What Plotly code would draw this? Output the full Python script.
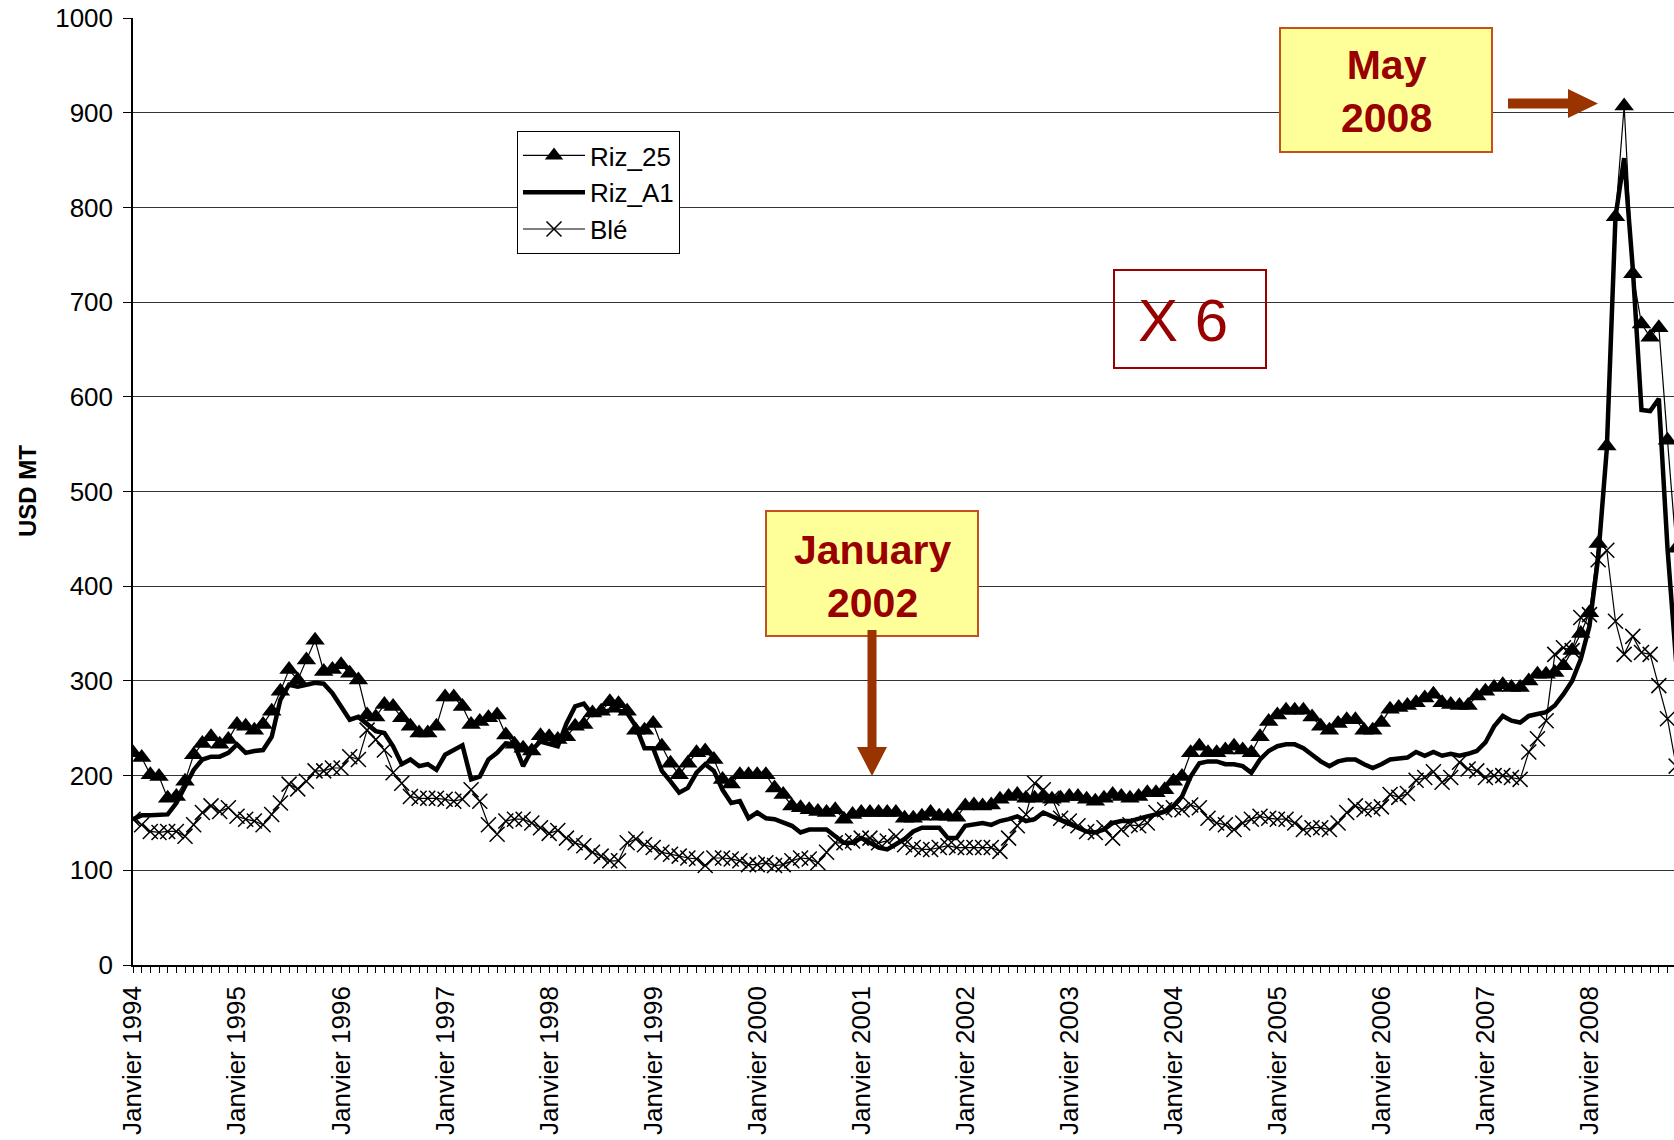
import plotly.graph_objects as go

# ---------------- data (monthly, Jan 1994 -> Nov 2008) ----------------
years = list(range(1994, 2009))

riz_25 = [
    224, 219, 201, 199, 176, 178, 194, 222, 234, 241, 233, 238,   # 1994
    254, 252, 248, 254, 268, 289, 312, 301, 322, 343, 310, 312,   # 1995
    317, 308, 301, 264, 262, 275, 273, 261, 252, 245, 245, 252,   # 1996
    283, 283, 273, 254, 257, 261, 264, 243, 233, 229, 226, 242,   # 1997
    241, 238, 241, 252, 254, 266, 268, 278, 276, 268, 248, 248,   # 1998
    255, 231, 213, 201, 213, 224, 226, 217, 196, 191, 201, 201,   # 1999
    201, 201, 187, 180, 168, 166, 164, 162, 161, 164, 154, 159,   # 2000
    161, 161, 161, 161, 161, 155, 155, 157, 161, 157, 157, 156,   # 2001
    168, 169, 168, 169, 175, 178, 180, 176, 176, 178, 175, 176,   # 2002
    178, 178, 175, 173, 176, 180, 178, 176, 178, 182, 182, 185,   # 2003
    194, 199, 224, 231, 224, 224, 227, 231, 227, 224, 241, 257,   # 2004
    264, 269, 269, 269, 262, 252, 248, 255, 259, 259, 248, 248,   # 2005
    256, 270, 272, 274, 277, 282, 286, 277, 275, 274, 274, 284,   # 2006
    289, 293, 296, 293, 293, 300, 307, 307, 309, 316, 332, 350,   # 2007
    372, 445, 548, 790, 907, 730, 677, 663, 673, 554, 440,        # 2008
]

riz_a1 = [
    154, 158, 158, 158, 159, 171, 189, 206, 217, 220, 220, 224,   # 1994
    233, 224, 226, 227, 241, 280, 296, 294, 296, 298, 297, 287,   # 1995
    273, 259, 262, 255, 247, 245, 231, 212, 217, 210, 212, 206,   # 1996
    222, 227, 232, 196, 199, 217, 224, 234, 233, 210, 227, 236,   # 1997
    233, 231, 255, 273, 276, 264, 266, 269, 269, 266, 252, 229,   # 1998
    229, 205, 194, 182, 187, 203, 212, 205, 185, 171, 173, 155,   # 1999
    161, 155, 154, 150, 147, 140, 143, 143, 143, 136, 129, 129,   # 2000
    134, 129, 124, 122, 127, 133, 141, 145, 145, 145, 134, 134,   # 2001
    147, 148, 150, 148, 152, 154, 157, 152, 154, 161, 157, 154,   # 2002
    150, 145, 141, 140, 143, 150, 152, 152, 155, 157, 159, 162,   # 2003
    168, 178, 199, 213, 215, 215, 212, 212, 210, 203, 217, 226,   # 2004
    231, 233, 233, 229, 222, 215, 210, 215, 217, 217, 212, 208,   # 2005
    212, 217, 218, 219, 225, 221, 225, 221, 223, 221, 223, 226,   # 2006
    235, 252, 263, 258, 256, 263, 265, 267, 274, 286, 300, 323,   # 2007
    358, 430, 545, 790, 852, 735, 586, 585, 598, 440, 320,        # 2008
]

ble = [
    154, 148, 141, 140, 141, 141, 136, 148, 161, 168, 162, 166,   # 1994
    157, 154, 152, 148, 159, 171, 191, 186, 194, 205, 205, 208,   # 1995
    208, 220, 217, 248, 238, 227, 203, 192, 178, 176, 176, 176,   # 1996
    175, 173, 175, 185, 173, 148, 138, 152, 154, 154, 150, 145,   # 1997
    139, 142, 134, 129, 126, 119, 115, 110, 110, 129, 133, 127,   # 1998
    124, 119, 117, 115, 113, 112, 105, 113, 113, 112, 110, 106,   # 1999
    106, 108, 105, 106, 110, 113, 112, 108, 119, 129, 129, 131,   # 2000
    134, 134, 129, 131, 136, 127, 124, 122, 122, 124, 126, 124,   # 2001
    124, 124, 124, 124, 120, 134, 147, 159, 192, 185, 176, 155,   # 2002
    152, 147, 141, 140, 145, 134, 143, 148, 147, 150, 161, 164,   # 2003
    166, 164, 169, 166, 155, 150, 148, 143, 150, 154, 157, 155,   # 2004
    154, 154, 150, 143, 145, 145, 143, 150, 161, 168, 164, 165,   # 2005
    167, 180, 177, 181, 195, 198, 204, 193, 198, 214, 207, 205,   # 2006
    198, 200, 200, 198, 196, 225, 239, 258, 328, 335, 332, 367,   # 2007
    370, 428, 438, 363, 328, 347, 330, 328, 295, 260, 210,        # 2008
]

series_names = ["Riz_25", "Riz_A1", "Blé"]
tick_labels = [f"Janvier {y}" for y in years]
y_ticks = list(range(0, 1001, 100))

# ---------------- geometry helpers ----------------
W, H = 1674, 1140
PL, PR, PT, PB = 133, 1674, 18, 965
FONT = "Liberation Sans, Arial, sans-serif"


def px(xp):
    return (xp - PL) / (PR - PL)


def py(yp):
    return (PB - yp) / (PB - PT)


months = list(range(len(riz_25)))
tickvals = list(range(0, 178))
ticktext = [tick_labels[m // 12] if m % 12 == 0 else "" for m in tickvals]

fig = go.Figure()
fig.add_trace(go.Scatter(
    x=months, y=riz_25, name=series_names[0], mode="lines+markers",
    line=dict(color="black", width=1.2),
    marker=dict(symbol="triangle-up", size=17, color="black"),
    legendgroup="a"))
fig.add_trace(go.Scatter(
    x=months, y=riz_a1, name=series_names[1], mode="lines",
    line=dict(color="black", width=4.5),
    legendgroup="b"))
fig.add_trace(go.Scatter(
    x=months, y=ble, name=series_names[2], mode="lines+markers",
    line=dict(color="black", width=1.2),
    marker=dict(symbol="x-thin-open", size=15, color="black",
                line=dict(color="black", width=1.5)),
    legendgroup="c"))

shapes = []
annotations = []

BOX_FILL = "#FFFF99"
BOX_LINE = "#C4501C"
DARKRED = "#990000"
ARROW = "#993300"


def rect(x0, y0, x1, y1, fill, line, lw):
    shapes.append(dict(type="rect", xref="paper", yref="paper",
                       x0=px(x0), x1=px(x1), y0=py(y1), y1=py(y0),
                       fillcolor=fill, line=dict(color=line, width=lw),
                       layer="above"))


def poly(points, color):
    d = "M " + " L ".join(f"{px(a):.5f},{py(b):.5f}" for a, b in points) + " Z"
    shapes.append(dict(type="path", xref="paper", yref="paper", path=d,
                       fillcolor=color, line=dict(color=color, width=0),
                       layer="above"))


def text(x, y, s, size, bold=True, color=DARKRED):
    annotations.append(dict(xref="paper", yref="paper", x=px(x), y=py(y),
                            xanchor="center", yanchor="middle", showarrow=False,
                            text=f"<b>{s}</b>" if bold else s,
                            font=dict(family=FONT, size=size, color=color)))


rect(1280, 28, 1492, 152, BOX_FILL, BOX_LINE, 2)
text(1386, 92, "May<br>2008", 41)
rect(766, 511, 978, 636, BOX_FILL, BOX_LINE, 2)
text(872, 576, "January<br>2002", 41)
rect(1114, 270, 1266, 368, "rgba(0,0,0,0)", DARKRED, 2)
text(1183, 320, "X 6", 60, bold=False)

# arrows
poly([(1508, 98.5), (1568, 98.5), (1568, 89), (1598, 103.5), (1568, 118),
      (1568, 108.5), (1508, 108.5)], ARROW)
poly([(867.5, 630), (876.5, 630), (876.5, 747), (887, 747), (872, 776),
      (857, 747), (867.5, 747)], ARROW)

# y-axis title
annotations.append(dict(xref="paper", yref="paper", x=px(27), y=py(491),
                        xanchor="center", yanchor="middle", showarrow=False,
                        text="<b>USD MT</b>", textangle=-90,
                        font=dict(family=FONT, size=24, color="black")))

fig.update_layout(
    width=W, height=H,
    margin=dict(l=PL, r=W - PR, t=PT, b=H - PB, pad=0),
    paper_bgcolor="white", plot_bgcolor="white",
    font=dict(family=FONT, size=26, color="black"),
    shapes=shapes, annotations=annotations,
    legend=dict(x=px(517), y=py(131), xanchor="left", yanchor="top",
                bgcolor="white", bordercolor="black", borderwidth=1,
                font=dict(family=FONT, size=26, color="black"),
                tracegroupgap=0, itemwidth=62),
    xaxis=dict(range=[0, 177.75], tickmode="array", tickvals=tickvals,
               ticktext=ticktext, tickangle=-90, ticks="outside", ticklen=6,
               tickcolor="black", tickwidth=1, showgrid=False, zeroline=False,
               showline=True, linecolor="black", linewidth=1.5,
               tickfont=dict(family=FONT, size=26, color="black"),
               ticklabelstandoff=3, automargin=False),
    yaxis=dict(range=[0, 1000], tickmode="array", tickvals=y_ticks,
               ticks="outside", ticklen=8, tickcolor="black", tickwidth=1,
               showgrid=True, gridcolor="#333333", gridwidth=1,
               zeroline=False, showline=True, linecolor="black", linewidth=1.5,
               tickfont=dict(family=FONT, size=26, color="black"),
               ticklabelstandoff=5, automargin=False),
)

fig.write_html("out.html")
